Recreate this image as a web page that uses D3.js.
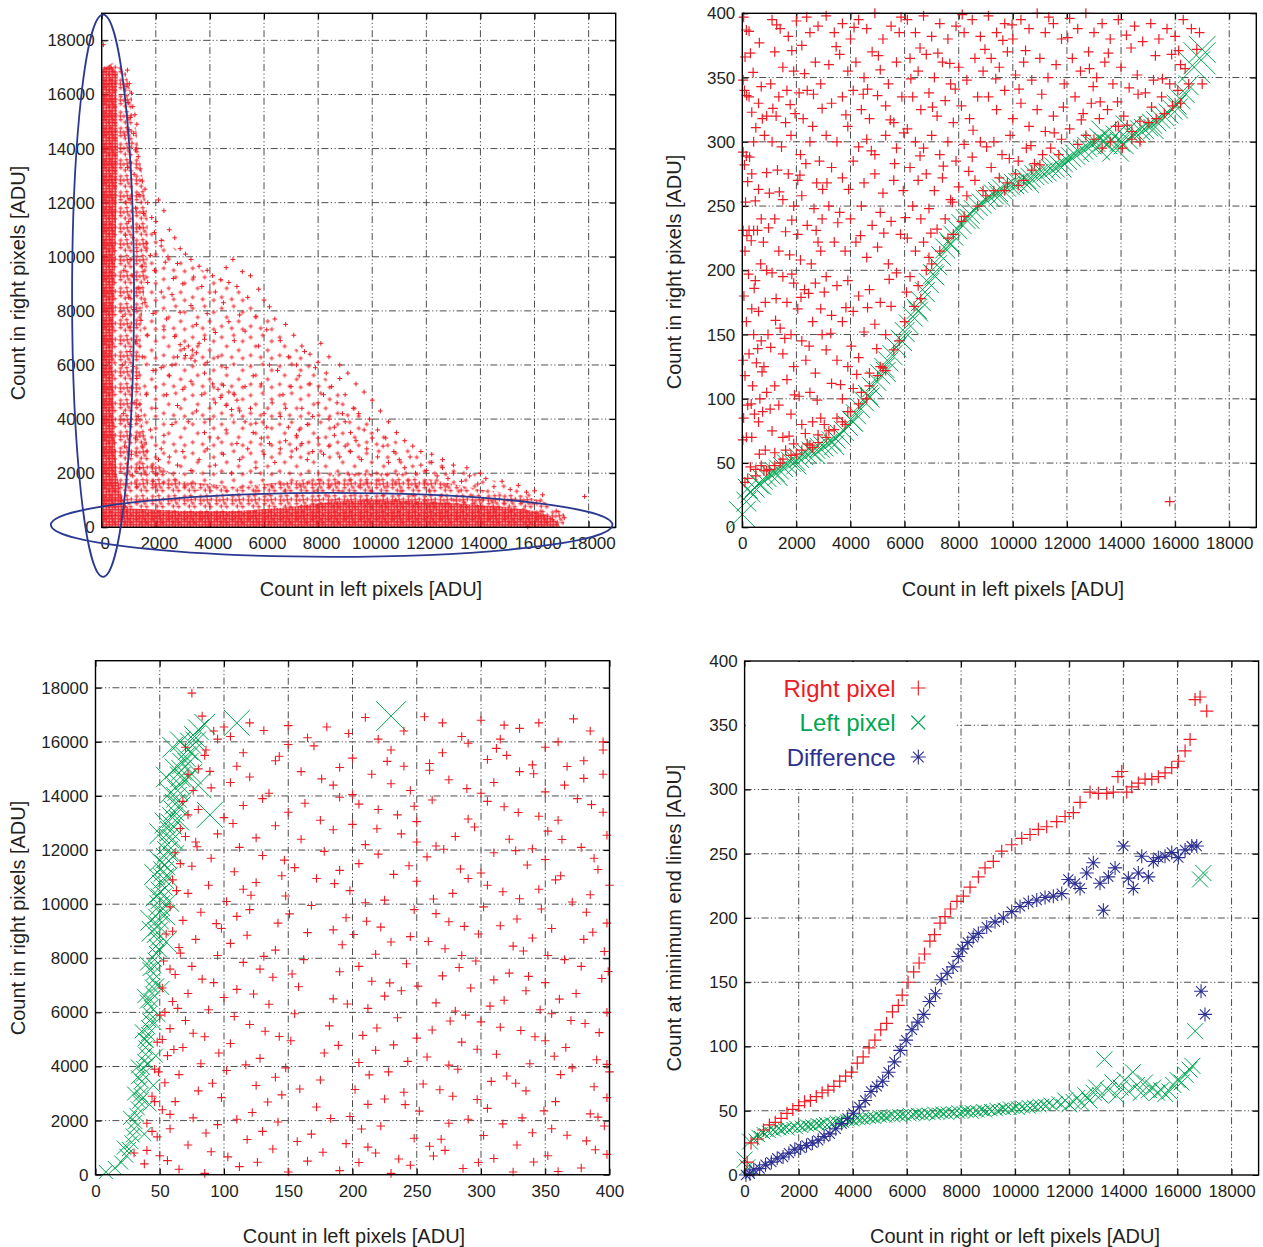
<!DOCTYPE html>
<html><head><meta charset="utf-8">
<script src="https://cdn.jsdelivr.net/npm/d3@7"></script>
<style>body{margin:0;background:#fff}text{font-family:"Liberation Sans",Arial,Helvetica,sans-serif}</style>
</head><body><script>
// ---------------- DATA ----------------
const ticksADU=[0,2000,4000,6000,8000,10000,12000,14000,16000,18000];
const ticks400=[0,50,100,150,200,250,300,350,400];
const titleLeft="Count in left pixels [ADU]";
const titleRight="Count in right pixels [ADU]";
const titleMin="Count at minimum end lines [ADU]";
const titleRL="Count in right or left pixels [ADU]";
const legendLabels=["Right pixel","Left pixel","Difference"];

// Panel 1: over-plotted regions [left ADU, right ADU]
const p1Dense=[[0,0],[0,16900],[300,17100],[600,16800],[550,16000],[600,14000],[550,12000],[500,10000],[450,8000],[400,6000],[450,4000],[550,2000],[800,900],[1000,700],[3000,600],[5000,600],[7000,750],[8500,950],[10000,1000],[12000,950],[13500,850],[15000,750],[16000,600],[16600,400],[16900,150],[16900,0]];
const p1Mid=[[0,0],[0,17000],[500,17200],[900,16800],[1100,16000],[1300,14500],[1500,13000],[1700,11500],[1700,10000],[1500,8000],[1400,6000],[1500,4000],[1800,2500],[3000,1700],[5000,1500],[7000,1700],[9000,2000],[11000,2000],[12500,1700],[14000,1400],[15500,1200],[16500,900],[17100,500],[17100,0]];
const p1Sparse=[[1200,1500],[1300,9000],[1700,11000],[2500,10500],[3500,9600],[4800,9000],[6000,8000],[7000,6800],[8000,5800],[9000,4800],[10000,3900],[11000,3100],[12300,2500],[14000,1900],[15500,1400],[16500,1000],[16500,500]];
// Panel 1: individually visible events [left, right]
const p1Points=[[60,17840],[950,16900],[1020,16400],[1100,16050],[980,15700],[1150,15550],[1230,15250],[1060,15150],[1300,14900],[1010,14700],[1180,14550],[1120,14200],[1250,13950],[1350,13700],[1050,13500],[1420,13250],[1200,13050],[1500,12800],[1600,12500],[1380,12300],[1050,12150],[1700,12000],[1250,11800],[1550,11600],[1850,11450],[1000,11300],[1400,11100],[1950,10900],[1150,10700],[1650,10500],[2200,10400],[1300,10200],[1800,10050],[1050,9900],[2350,9800],[1500,9650],[1950,9500],[1150,9300],[2650,9200],[1700,9050],[1350,8850],[2200,8700],[1000,8500],[1600,8300],[1200,8050],[1900,7900],[1450,7650],[1050,7400],[2300,7300],[1700,7100],[1250,6850],[1050,6500],[1500,6300],[1150,5950],[1900,5800],[1300,5500],[1100,5150],[1650,4900],[1200,4600],[2000,4400],[1350,4100],[1050,3800],[1800,3600],[1250,3300],[1500,3000],[1100,2700],[2100,2500],[1400,2200],[1150,1900],[1900,1700],[1300,1500],
[2100,12100],[2300,11700],[2000,11300],[2500,11000],[2700,10700],[2200,10600],[2900,10300],[3100,10100],[2450,10000],[3300,9900],[2800,9750],[3600,9650],[3900,9500],[4100,9300],[3400,9250],[4400,9150],[4700,9050],[4850,9900],[4600,9600],[5200,9450],[5500,9300],[5000,8900],[5800,8800],[3000,9000],[3700,8900],[4200,8700],[2600,8600],[5400,8500],[6000,8400],[6200,8150],[4500,8300],[3300,8200],[2900,7950],[3900,7900],[5100,7850],[5700,7800],[6400,7700],[2400,7700],[4700,7600],[6800,7500],[3500,7500],[6100,7300],[5300,7250],[4200,7200],[7100,7100],[2700,7050],[3800,6950],[6600,6900],[4900,6900],[5800,6700],
[2900,6750],[3050,6600],[3200,6700],[3350,6550],[3500,6450],[3100,6350],[3300,6250],[2800,6300],[3600,6800],[3450,6150],[2600,6000],[3900,6100],[4300,6300],[4600,5900],[2200,5900],[3800,5700],[2500,5600],[3300,5400],[4100,5300],[4300,5100],[4500,5250],[4700,5000],[4900,4900],[4400,4800],[4200,4600],[4600,4500],[5000,4700],[4800,4350],[5100,4300],[3700,4900],[3000,5100],[2400,4900],[2800,4500],[3500,4300],[3200,3900],[2600,3800],[4000,4000],[5300,5200],[5600,5600],[5900,5300],[6200,6000],[6500,5800],[6900,6300],[7200,6000],[7500,6500],[7300,5600],[7900,5900],[7700,5300],[8300,5700],[8500,5200],[8800,5500],[8200,4900],[8700,4600],[9000,4900],[9300,4400],[7000,5200],[6700,4900],[6300,4600],[6000,4200],[5700,3850],[5600,3500],[5900,3300],[6100,3700],[5500,4400],[7400,4400],[7800,4100],[8000,4600],[8400,4000],[9000,3900],[9500,4200],[9700,3600],[6600,4100],[6900,3700],[7200,3400],[5300,3900],[4600,3600],[4300,3300],[3800,3500],[5000,3100],[2300,3400],
[2200,2900],[2500,2600],[2800,2300],[3000,2800],[3300,2100],[3600,2500],[3900,2900],[4200,2300],[4500,2700],[4800,2000],[5100,2500],[5400,2900],[5700,2200],[6000,2700],[6200,3100],[6400,2400],[6600,2900],[6800,3200],[7000,2600],[7200,2900],[7400,3100],[7600,2500],[7800,2800],[8000,3300],[8200,2700],[8400,3000],[8600,3400],[8800,2600],[9000,3000],[9200,2800],[9400,3200],[9600,2500],[9800,2900],[10000,3300],[10200,2600],[10400,3000],[10600,2400],[10800,2800],[11000,2500],[11200,2200],[11400,2600],[11600,2000],[11800,2300],[12000,2100],[12200,2400],[12400,1900],[12600,2200],[12800,1800],[13000,2000],[13300,1700],[13600,1900],[13900,1600],[14200,1800],[14500,1500],[14800,1700],[15100,1400],[15400,1550],[15700,1300],[16000,1350],[16300,1200],
[7400,6700],[7700,6400],[8000,6100],[8100,6800],[8400,6300],[8800,6000],[9100,5700],[9400,5300],[9700,5000],[10000,4700],[10300,4300],[10600,3900],[10900,3500],[11200,3200],[11500,3000],[11800,2800],[12200,2700],[12600,2500],[13000,2300],[13500,2200],[14000,2000],[9900,4000],[10200,3600],[10500,3300],[8600,3700],[9200,3500],[8900,4200],[7600,3800],[7300,3600],[6800,4400],
[900,16300],[850,14500],[950,13300],[900,12000],[880,10800],[820,9500],[780,7800],[760,6000],[800,4200],[850,3000],[17850,1140],[15750,20],[16800,600],[17100,350]];
// Panel 1 annotation ellipses [centre left, centre right, radius left, radius right] in ADU
const p1Ellipses=[[50,8560,1145,10390],[8500,90,10380,1180]];

// Panel 2: red = right pixel events [left ADU, right ADU]
const p2Right=[[50,397],[150,387],[250,386],[100,366],[300,369],[30,348],[80,340],[160,336],[250,335],[400,354],[600,330],[350,323],[500,311],[420,300],[700,343],[900,320],[820,305],[30,292],[150,289],[80,282],[200,269],[350,275],[600,263],[900,276],[480,254],[120,253],[700,240],[30,231],[250,231],[420,231],[560,231],[100,215],[330,223],[780,222],[680,205],[230,197],[480,192],[900,200],[60,180],[350,170],[600,168],[850,175],[150,160],[420,150],[700,145],[950,150],[30,130],[250,135],[520,128],[800,125],[100,118],[380,110],[650,100],[900,105],[200,95],[50,85],[450,88],[750,90],[150,70],[20,68],[350,70],[600,82],[850,60],[300,47],[500,45],[700,48],[900,44],[100,35],[200,38],
[1100,395],[1400,388],[1700,382],[2000,394],[2200,375],[2500,385],[2800,390],[1200,370],[1500,358],[1900,355],[2300,353],[2700,362],[1050,345],[1350,335],[1650,340],[2100,338],[2400,340],[2900,345],[1250,320],[1600,315],[1950,322],[2250,318],[2600,312],[2950,326],[1100,300],[1450,296],[1800,305],[2150,290],[2500,300],[2850,285],[1300,278],[1700,275],[2050,270],[2350,283],[2750,268],[1000,260],[1500,255],[1900,250],[2200,258],[2650,248],[2950,240],[1200,240],[1600,230],[2050,228],[2400,235],[2800,222],[1350,215],[1750,212],[2150,208],[2550,205],[2900,215],[1100,198],[1500,195],[1900,190],[2300,185],[2700,190],[1250,178],[1650,175],[2050,170],[2450,182],[2900,170],[1400,155],[1800,150],[2200,145],[2600,160],[2950,150],[1050,140],[1500,135],[1900,125],[2350,130],[2700,120],[1200,110],[1650,115],[2100,102],[2500,105],[1350,95],[1800,88],[2200,80],[2600,82],[2900,85],[1100,75],[1500,70],[1900,65],[2400,65],[2800,72],[1200,58],[1600,60],[2000,57],[1400,50],[1000,45],[2600,62],
[500,40],[800,44],[1200,48],[1500,53],[1800,56],[2200,60],[2500,64],[2800,66],[3100,70],[3400,76],[3700,82],[4000,90],[4300,96],[4700,110],[5200,124],
[3100,398],[3400,385],[3700,392],[4000,380],[4300,395],[4600,388],[4900,400],[5200,380],[5500,390],[5800,385],[3200,360],[3600,368],[3900,355],[4200,362],[4500,350],[4800,370],[5100,356],[5400,345],[5700,362],[3300,330],[3700,335],[4100,340],[4400,325],[4700,318],[5000,336],[5300,328],[5600,315],[5900,335],[3100,305],[3500,300],[3900,312],[4300,296],[4600,302],[4900,290],[5300,305],[5700,295],[3300,280],[3700,272],[4100,285],[4500,268],[4900,275],[5200,260],[5600,270],[5950,262],[3200,250],[3600,245],[4000,240],[4400,250],[4800,235],[5100,245],[5500,238],[5850,228],[3400,222],[3800,215],[4200,222],[4600,210],[5000,218],[5400,205],[5700,198],[3100,195],[3500,188],[3900,192],[4300,180],[4700,185],[5100,175],[5500,172],[3300,165],[3700,160],[4100,168],[4500,152],[4900,158],[5300,150],[3100,138],[3500,130],[3900,125],[4300,132],[4700,120],[5100,125],[3300,112],[3700,100],[4100,108],[4400,105],[3500,85],[3900,90],[3200,75],[3800,80],[4600,100],[5000,118],[5300,122],[5600,138],[5800,145],[6000,160],
[6100,395],[6400,385],[6700,398],[7000,382],[7300,392],[7600,380],[7900,390],[8200,385],[8500,395],[8800,382],[6200,365],[6500,355],[6800,368],[7100,350],[7400,362],[7700,345],[8000,358],[8300,348],[8600,365],[8900,355],[6300,335],[6600,325],[6900,338],[7200,320],[7500,332],[7800,315],[8100,328],[8400,318],[8700,335],[6100,310],[6400,300],[6700,295],[7000,305],[7300,290],[7600,300],[7900,285],[8200,298],[8500,288],[8800,300],[6200,280],[6500,270],[6800,275],[7100,262],[7400,272],[7700,255],[8000,265],[8300,258],[8600,270],[8900,262],[6300,250],[6600,240],[6900,248],[7200,232],[7500,240],[7800,228],[8200,242],[6100,225],[6400,215],[6700,222],[7000,205],[7300,215],[6200,195],[6500,188],[6800,200],[6350,172],[6600,178],[6900,210],[7600,225],[8100,238],[8700,250],[9000,258],
[9100,398],[9400,385],[9700,392],[10000,380],[10300,395],[10600,388],[10900,400],[11200,385],[11500,392],[11800,380],[9200,365],[9500,358],[9800,370],[10100,352],[10400,362],[10700,348],[11000,365],[11300,350],[11600,360],[11900,345],[9100,335],[9400,325],[9700,340],[10000,318],[10300,330],[10600,312],[10900,325],[11200,308],[11500,320],[11800,302],[9300,300],[9600,290],[9900,305],[10200,285],[10500,295],[10800,283],[11100,290],[11400,295],[9200,280],[9500,272],[9800,268],[10100,275],[10400,270],[10700,278],[11000,282],[11700,290],[9300,262],[9700,262],[10200,266],
[12100,396],[12400,388],[12700,400],[13000,385],[13300,392],[13600,380],[13900,395],[14200,383],[14500,390],[14800,378],[15100,392],[15400,380],[15700,388],[16000,382],[16300,395],[16600,388],[16900,385],[12200,365],[12500,355],[12800,370],[13100,350],[13400,362],[13700,345],[14000,358],[14300,342],[14600,352],[14900,338],[15200,348],[15500,335],[15800,345],[16100,340],[16500,345],[12300,335],[12600,322],[12900,330],[13200,318],[13500,325],[13800,312],[14100,320],[14400,308],[14700,316],[15000,315],[15300,318],[15600,322],[15900,328],[16200,330],[12100,310],[12400,298],[12700,305],[13000,302],[13300,295],[13600,300],[14050,295],[14400,302],[14700,300],[13900,312],[15800,20],[16800,372],[16200,360],[17000,345],
[630,377],[1270,391],[1830,371],[2380,397],[3470,374],[4130,389],[5030,367],[5870,397],[6570,373],[7230,369],[8130,399],[8970,372],[9630,379],[10470,371],[11330,397],[12030,381],[13530,369],[14370,373],[15270,367],[16130,371],[740,318],[1130,326],[1770,329],[2630,337],[3830,321],[4630,341],[5470,317],[6230,349],[7030,327],[7870,341],[8530,309],[9370,349],[10230,341],[11070,337],[11870,327],[12970,343],[13870,331],[14630,337],[15530,349],[16370,357],[270,288],[1370,261],[2130,274],[3130,268],[3930,263],[4770,293],[5630,283],[6570,289],[7430,281],[8370,277],[9030,296],[9870,287],[10670,297],[11530,307],[12530,317],[13230,331],[14230,313],[15130,327],[170,227],[970,233],[1830,239],[2730,231],[3530,237],[4370,227],[5230,229],[6030,241],[6970,229],[7770,253],[440,186],[1230,161],[2170,179],[3030,183],[3830,171],[4630,171],[5430,193],[6070,183],[730,121],[1570,147],[2470,141],[3270,151],[4030,141],[4970,139],[330,96],[1030,92],[1930,103],[2770,99],[3630,111],[4230,119],[630,57],[1730,71],[2330,73],[3030,80],[570,139],[1830,197],[2970,263],[4470,337],[5970,307],[7670,361],[9970,391],[12830,357],[15870,368]];
// Panel 2: green = left pixel events [left ADU, right ADU, multiplicity]
const p2Left=[[0,10,2],[150,20,1],[300,27,1],[450,31,1],[600,34,1],[750,37,1],[900,39,1],[1050,41,1],[1200,43,1],[1350,45,1],[1500,47,1],[1650,49,1],[1800,51,1],[1950,52,1],[2100,54,1],[2250,56,1],[2400,57,1],[2550,59,1],[2700,61,1],[2850,62,1],[3000,63,1],[3150,65,1],[3300,67,1],[3450,69,1],[3600,72,1],[3750,75,1],[3900,79,1],[4050,83,1],[4200,88,1],[4350,93,1],[4500,98,1],[4650,103,1],[4800,109,1],[4950,114,1],[5100,119,1],[5250,124,1],[5400,129,1],[5550,134,1],[5700,140,1],[5850,146,1],[6000,152,1],[6150,158,1],[6300,164,1],[6450,170,1],[6600,176,1],[6750,183,1],[6900,190,1],[7050,197,1],[7200,204,1],[7350,211,1],[7500,217,1],[7650,222,1],[7800,227,1],[7950,232,1],[8100,236,1],[8250,240,1],[8400,244,1],[8550,247,1],[8700,250,1],[8850,252,1],[9000,255,1],[9150,257,1],[9300,259,1],[9450,261,1],[9600,263,1],[9750,265,1],[9900,266,1],[10050,267,1],[10200,268,1],[10350,270,1],[10500,271,1],[10650,272,1],[10800,274,1],[10950,275,1],[11100,276,1],[11250,277,1],[11400,279,1],[11550,280,1],[11700,282,1],[11850,284,1],[12000,286,1],[12150,288,1],[12300,290,1],[12450,292,1],[12600,294,1],[12750,296,1],[12900,298,1],[13050,300,1],[13200,303,1],[13350,300,1],[13500,298,1],[13650,302,1],[13800,305,1],[13950,300,1],[14100,298,1],[14250,302,1],[14400,305,1],[14550,307,1],[14700,309,1],[14850,310,1],[15000,312,1],[15150,314,1],[15300,316,1],[15450,318,1],[15600,320,1],[15750,322,1],[15900,325,1],[16050,329,1],[16200,333,1],[16350,338,1],[16500,344,1],[16700,358,3],[16900,365,3],[17000,372,2],
[200,30,1],[700,33,1],[1300,40,1],[2000,49,1],[2700,57,1],[3400,64,1],[4100,82,1],[4700,101,1],[5300,121,1],[5900,145,1],[6500,168,1],[7100,196,1],[7700,220,1],[8400,240,1],[9500,258,1],[10600,268,1],[11800,280,1],[13100,296,2],[13400,306,2],[13800,295,2],[14300,310,2],[15200,310,1],[16100,326,1]];

// Panel 3: red = right pixel events [left ADU, right ADU]
const p3Right=[[75,17800],[120,16700],[150,16600],[180,16550],[240,16400],[270,16700],[300,16800],[330,16500],[360,16000],[395,16000],[95,16100],[105,16200],[210,16900],[345,16700],[100,16550],[285,16200],[220,16100],[315,16100],[385,16400],[165,16150],
[70,15800],[85,15500],[115,15600],[140,15300],[170,15850],[200,15400],[230,15700],[260,15200],[290,15950],[320,15500],[350,15800],[380,15300],[110,15100],[190,15050],[270,15600],[340,15150],[395,15700],[150,15900],[240,15100],[305,15350],
[72,14800],[90,14300],[120,14700],[135,14100],[160,14900],[185,14400],[215,14800],[245,14200],[275,14600],[300,14100],[330,14900],[365,14400],[395,14800],[105,14500],[200,14050],[260,14950],[310,14500],[350,14150],[230,14450],[380,14650],
[68,13800],[80,13500],[100,13200],[130,13900],[150,13400],[175,13100],[205,13700],[235,13300],[262,13850],[290,13150],[318,13600],[345,13250],[375,13900],[395,13400],[115,13650],[190,13950],[250,13050],[305,13800],[360,13100],[220,13500],
[66,12800],[78,12300],[95,12600],[112,12100],[140,12900],[160,12400],[185,12750],[210,12200],[238,12600],[265,12150],[295,12850],[322,12400],[352,12700],[378,12100],[398,12550],[125,12450],[200,12950],[280,12500],[340,12050],[250,12300],
[62,11900],[75,11400],[90,11700],[108,11200],[130,11800],[155,11350],[178,11950],[205,11500],[232,11100],[258,11750],[284,11300],[310,11900],[336,11450],[362,11050],[388,11700],[145,11050],[220,11850],[300,11150],[350,11650],[190,11250],
[60,10900],[72,10400],[88,10700],[102,10100],[125,10800],[148,10300],[172,10950],[198,10500],[225,10150],[250,10850],[278,10400],[305,10700],[330,10200],[358,10900],[385,10350],[400,10700],[115,10550],[210,10050],[290,10950],[345,10550],
[58,9900],[68,9400],[82,9700],[98,9100],[120,9800],[142,9300],[168,9950],[195,9500],[222,9150],[248,9800],[275,9350],[302,9900],[328,9450],[355,9100],[382,9700],[398,9300],[110,9550],[185,9050],[265,9650],[315,9200],
[55,8900],[65,8400],[78,8700],[95,8100],[118,8850],[140,8300],[165,8950],[192,8500],[218,8150],[245,8800],[272,8350],[298,8900],[325,8450],[352,8100],[380,8700],[396,8250],[105,8550],[230,8600],[285,8100],[340,8750],
[53,7900],[62,7400],[75,7700],[92,7100],[115,7850],[138,7300],[162,7950],[190,7500],[215,7150],[242,7800],[270,7350],[296,7900],[322,7450],[350,7100],[378,7700],[394,7250],[128,7600],[205,7700],[310,7200],[365,7950],
[52,6900],[60,6400],[72,6700],[88,6100],[110,6850],[135,6300],[158,6950],[185,6500],[212,6150],[238,6800],[265,6350],[292,6900],[318,6450],[346,6100],[374,6700],[398,6000],[100,6550],[225,6600],[280,6050],[335,6800],
[50,5900],[58,5400],[70,5700],[85,5100],[108,5850],[132,5300],[155,5950],[182,5500],[208,5150],[235,5800],[262,5350],[288,5900],[315,5450],[342,5100],[370,5700],[392,5250],[120,5550],[250,5050],[300,5650],[355,5950],
[48,4900],[56,4400],[68,4700],[82,4100],[105,4850],[128,4300],[152,4950],[178,4500],[205,4150],[232,4800],[258,4350],[285,4900],[312,4450],[338,4100],[366,4700],[390,4250],[96,4500],[218,4600],[275,4050],[350,4950],
[46,3900],[54,3400],[65,3700],[80,3100],[102,3850],[125,3300],[148,3950],[175,3500],[202,3150],[228,3800],[255,3350],[282,3900],[308,3450],[335,3100],[362,3700],[388,3250],[400,3800],[140,3600],[240,3050],[320,3650],
[44,2900],[52,2400],[62,2700],[76,2100],[98,2850],[122,2300],[145,2950],[172,2500],[198,2150],[225,2800],[252,2350],[278,2900],[305,2450],[332,2100],[358,2700],[385,2250],[398,2850],[110,2050],[212,2600],[290,2050],
[40,1900],[48,1400],[58,1700],[72,1100],[95,1850],[118,1300],[142,1950],[168,1500],[195,1150],[222,1800],[248,1350],[275,1900],[302,1450],[328,1100],[355,1700],[382,1250],[396,1800],[130,1600],[260,1050],[340,1550],
[30,800],[38,400],[50,700],[65,200],[90,850],[112,300],[138,950],[165,500],[190,150],[218,800],[245,350],[272,900],[298,450],[325,100],[352,700],[378,250],[398,750],[150,100],[230,50],[310,600],[360,120],[205,450],[85,50],
[83,16950],[131,16420],[197,16310],[256,16930],[318,16620],[372,16850],[143,15470],[227,15280],[312,15760],[367,15090],[89,14910],[176,14630],[289,14270],[341,14820],[248,13620],[163,13730],[329,13390],[386,13680],[107,12980],[219,12790],[271,12030],[363,12390],[79,12120],[147,11630],[244,11420],[327,11980],[391,11280],[121,10330],[186,10760],[263,10190],[317,10460],[371,10080],[94,9280],[151,9640],[211,9370],[287,9180],[347,9820],[66,8190],[131,8070],[201,8880],[259,8620],[333,8270],[387,8960],[83,7230],[153,7420],[229,7090],[283,7660],[337,7330],[399,7510],[64,6150],[123,6680],[196,6310],[251,6970],[307,6230],[361,6490],[76,5230],[143,5110],[219,5420],[276,5680],[331,5330],[381,5590],[61,4630],[117,4060],[189,4780],[243,4190],[297,4640],[357,4380],[398,4080],[91,3380],[159,3170],[213,3690],[268,3140],[327,3380],[371,3950],[58,2230],[134,2690],[183,2080],[241,2590],[297,2780],[349,2360],[391,2130],[86,1540],[157,1230],[207,1690],[269,1310],[317,1880],[367,1460],[56,520],[103,660],[177,830],[236,580],[286,230],[341,470],[389,920],[126,460],[263,690],[212,1020],
[58,7600],[60,9000],[63,10500],[66,11500],[70,12500],[72,13300],[76,14200],[80,15000],[86,15700],[92,16400],[54,6000],[52,5000],[49,3800],[46,2700],[44,1600],[40,900]];
// Panel 3: green = left pixel events [left ADU, right ADU, multiplicity]
const p3Left=[[8,100,1],[15,250,1],[20,450,1],[24,700,1],[26,950,1],[28,1200,1],[29,1450,1],[30,1700,1],[31,1950,1],[32,2200,1],[33,2450,1],[34,2700,1],[35,2950,1],[35,3200,1],[36,3450,1],[37,3700,1],[37,3950,1],[38,4200,1],[39,4450,1],[39,4700,1],[40,4950,1],[41,5200,1],[41,5450,1],[42,5700,1],[42,5950,1],[43,6200,1],[43,6450,1],[44,6700,1],[44,6950,1],[45,7200,1],[45,7450,1],[46,7700,1],[46,7950,1],[47,8200,1],[47,8450,1],[48,8700,1],[48,8950,2],[49,9200,2],[49,9450,2],[50,9700,2],[50,9950,2],[51,10200,2],[51,10450,2],[52,10700,2],[53,10950,2],[53,11200,2],[54,11450,2],[55,11700,2],[56,11950,2],[56,12200,2],[57,12450,2],[58,12700,2],[59,12950,2],[60,13200,2],[61,13450,2],[62,13700,2],[63,13950,2],[64,14200,2],[65,14450,2],[66,14700,2],[67,14950,2],[68,15200,2],[70,15450,2],[72,15700,2],[74,15950,2],[77,16200,2],[80,16450,2],[85,16650,2],[110,16700,3],[230,16950,4],[89,13300,3],[80,14400,3],[75,14800,2],
[36,2800,1],[33,3600,1],[41,4100,1],[38,5000,1],[46,5600,1],[40,6400,1],[48,7000,1],[42,7600,1],[50,8300,1],[44,9000,2],[54,9600,2],[47,10300,2],[56,11000,2],[50,11600,2],[60,12400,2],[54,13000,2],[66,13600,2],[58,14100,2],[70,14600,2],[62,15000,2],[75,15600,2],[66,16000,2],
[22,1000,1],[38,1500,1],[27,2100,1],[42,2600,1],[30,3000,1],[45,3300,1],[33,4000,1],[47,4400,1],[36,5300,1],[49,5900,1],[38,6600,1],[52,6900,1],[40,7800,1],[55,8600,2],[43,9400,2],[57,10100,2],[46,11100,2],[61,11800,2],[50,12600,2],[65,13100,2],[55,14700,2],[72,15200,2],[60,15800,2],[78,16000,2]];

// Panel 4 (minimum end lines vs pixel count)
const p4Right=[[94,10],[238,25],[484,28],[700,35],[917,39],[1134,41],[1350,44],[1567,48],[1783,51],[2000,54],[2217,57],[2433,58],[2650,61],[2866,64],[3083,66],[3300,69],[3516,73],[3733,77],[3949,80],[4166,87],[4382,92],[4599,99],[4816,105],[5032,113],[5249,118],[5466,127],[5682,132],[5826,140],[6043,150],[6250,158],[6450,165],[6650,172],[6850,182],[7020,187],[7224,196],[7409,201],[7610,207],[7850,213],[8086,217],[8333,224],[8640,232],[8888,239],[9194,244],[9504,252],[9874,257],[10244,262],[10551,265],[10858,269],[11168,271],[11538,275],[11845,279],[12152,282],[12400,290],[12769,298],[13077,297],[13386,297],[13631,298],[13800,310],[13942,314],[14126,298],[14311,302],[14555,305],[14803,308],[15051,308],[15295,310],[15542,313],[15789,317],[16034,322],[16282,330],[16467,339],[16651,370],[16836,372],[17083,361]];
const p4Left=[[0,12,2],[100,6,2],[200,26,2],[350,28,1],[450,31,1],[550,30,1],[650,33,1],[750,32,1],[850,34,1],[950,33,1],[1050,35,1],[1150,34,1],[1250,36,1],[1350,35,1],[1450,36,1],[1550,37,1],[1650,35,1],[1750,37,1],[1850,38,1],[1950,36,1],[2050,38,1],[2150,37,1],[2250,39,1],[2350,38,1],[2450,39,1],[2550,38,1],[2650,40,1],[2750,39,1],[2850,40,1],[2950,41,1],[3050,39,1],[3150,41,1],[3250,40,1],[3350,42,1],[3450,41,1],[3550,42,1],[3650,41,1],[3750,43,1],[3850,42,1],[3950,43,1],[4050,42,1],[4150,44,1],[4250,43,1],[4350,44,1],[4450,43,1],[4550,45,1],[4650,44,1],[4750,45,1],[4850,44,1],[4950,46,1],[5050,45,1],[5150,46,1],[5250,45,1],[5350,46,1],[5450,47,1],[5550,45,1],[5650,47,1],[5750,46,1],[5850,47,1],[5950,46,1],[6050,48,1],[6150,46,1],[6250,47,1],[6350,48,1],[6450,47,1],[6550,48,1],[6650,46,1],[6750,48,1],[6850,47,1],[6950,49,1],[7050,47,1],[7150,48,1],[7250,49,1],[7350,48,1],[7450,49,1],[7550,47,1],[7650,49,1],[7750,48,1],[7850,50,1],[7950,48,1],[8050,49,1],[8150,50,1],[8250,49,1],[8350,50,1],[8450,48,1],[8550,50,1],[8650,49,1],[8750,51,1],[8850,50,1],[8950,49,1],[9050,51,1],[9150,50,1],[9250,52,1],[9350,50,1],[9450,51,1],[9550,52,1],[9650,51,1],[9750,53,1],[9850,51,1],[9950,52,1],[10050,53,1],[10150,51,1],[10250,53,1],[10350,52,1],[10450,54,1],[10550,52,1],[10650,54,1],[10750,53,1],[10850,55,1],[10950,53,1],[11050,55,1],[11150,54,1],[11250,56,1],[11400,54,1],[11550,57,1],[11700,55,1],[11850,58,2],[12000,55,2],[12150,57,2],[12300,60,2],[12450,56,2],[12600,62,2],[12750,58,2],[12900,64,2],[13000,68,2],[13150,62,2],[13300,90,2],[13450,66,2],[13600,72,2],[13750,62,2],[13900,68,2],[14050,74,2],[14200,65,2],[14350,80,2],[14500,70,2],[14650,64,2],[14800,72,2],[14950,66,2],[15100,68,2],[15250,64,2],[15400,66,2],[15550,63,2],[15700,65,2],[15850,70,2],[16000,74,2],[16150,72,2],[16300,78,2],[16450,82,2],[16550,85,2],[16658,112,2],[16836,230,2],[16958,235,2]];
const p4Diff=[[51,0],[195,1],[339,4],[556,5],[773,8],[989,10],[1206,13],[1422,14],[1639,17],[1856,20],[2072,21],[2289,23],[2505,25],[2722,27],[2938,30],[3155,32],[3372,36],[3588,40],[3805,44],[4021,48],[4238,53],[4455,58],[4671,65],[4888,69],[5104,73],[5321,80],[5538,88],[5754,97],[5971,105],[6187,113],[6404,119],[6621,125],[6837,135],[7054,141],[7270,152],[7487,157],[7704,162],[7900,170],[8050,176],[8250,181],[8450,185],[8640,188],[8950,193],[9257,197],[9565,200],[9874,205],[10182,209],[10489,212],[10799,214],[11106,216],[11413,217],[11723,219],[11967,230],[12215,227],[12400,223],[12647,235],[12892,243],[13139,227],[13262,206],[13447,232],[13694,239],[14001,256],[14186,231],[14370,223],[14555,235],[14680,248],[14925,232],[15110,244],[15295,247],[15542,248],[15789,251],[16034,247],[16282,253],[16529,256],[16714,256],[16873,143],[17018,125]];

// ---------------- DRAWING ----------------
const RED="#ed1c24",GREEN="#00a651",BLUE="#2e3192",INK="#231f20";
const S=514;
const svg=d3.select("body").append("svg").attr("width",1263).attr("height",1247);
const defs=svg.append("defs");
function makePattern(id,size,bgOpacity,marks,arm){
  const p=defs.append("pattern").attr("id",id).attr("patternUnits","userSpaceOnUse").attr("width",size).attr("height",size);
  if(bgOpacity>0)p.append("rect").attr("width",size).attr("height",size).attr("fill",RED).attr("fill-opacity",bgOpacity);
  p.append("path").attr("d",marks.map(([a,b])=>`M${a-arm},${b}H${a+arm}M${a},${b-arm}V${b+arm}`).join("")).attr("stroke",RED).attr("stroke-width",1).attr("fill","none");
}
// texture tiles used to render over-plotted areas (hand-placed marks)
makePattern("dense",3,0.4,[[1.5,1.5]],1.5);
makePattern("mid",16,0,[[3,3],[9,2.5],[13.5,6],[6,7],[11,10],[3,10.5],[7.5,13],[13,13.5],[9.5,6.5],[2.5,6.8]],2.3);
makePattern("sparse",29,0,[[4,5],[16,3],[25,9],[9,14],[21,18],[4,23],[14,25],[25,26]],2.3);

const shapes={
  plus:s=>`M${-s},0H${s}M0,${-s}V${s}`,
  cross:s=>`M${-s},${-s}L${s},${s}M${-s},${s}L${s},${-s}`,
  star:s=>{const c=s*0.72;return `M${-s},0H${s}M0,${-s}V${s}M${-c},${-c}L${c},${c}M${-c},${c}L${c},${-c}`;}
};

function panel(o){
  const g=svg.append("g").attr("transform",`translate(${o.left},${o.top})`);
  const x=d3.scaleLinear().domain(o.xd).range([0,S]);
  const y=d3.scaleLinear().domain(o.yd).range([S,0]);
  const grid=g.append("g").attr("stroke","#3a3a3a").attr("stroke-width",0.9).attr("stroke-dasharray","7,2.5,1.2,2.5,1.2,2.5");
  grid.selectAll("line.v").data(o.xt.filter(v=>v>o.xd[0]&&v<o.xd[1])).join("line").attr("class","v")
    .attr("x1",d=>x(d)).attr("x2",d=>x(d)).attr("y1",S).attr("y2",0);
  grid.selectAll("line.h").data(o.yt.filter(v=>v>o.yd[0]&&v<o.yd[1])).join("line").attr("class","h")
    .attr("y1",d=>y(d)).attr("y2",d=>y(d)).attr("x1",0).attr("x2",S);
  const fmt=d3.format("d");
  const ax=g.append("g").attr("transform",`translate(0,${S})`).call(d3.axisBottom(x).tickValues(o.xt).tickFormat(fmt).tickSizeInner(-6).tickSizeOuter(0).tickPadding(10));
  const ay=g.append("g").call(d3.axisLeft(y).tickValues(o.yt).tickFormat(fmt).tickSizeInner(-6).tickSizeOuter(0).tickPadding(7));
  const at=g.append("g").call(d3.axisTop(x).tickValues(o.xt).tickFormat("").tickSizeInner(-6).tickSizeOuter(0));
  const ar=g.append("g").attr("transform",`translate(${S},0)`).call(d3.axisRight(y).tickValues(o.yt).tickFormat("").tickSizeInner(-6).tickSizeOuter(0));
  [ax,ay,at,ar].forEach(a=>{a.select(".domain").remove();a.selectAll("line").attr("stroke","#000");
    a.selectAll("text").attr("font-size",17).attr("fill",INK).attr("font-family","Liberation Sans, Arial, sans-serif");});
  if(o.xLabelDx)ax.selectAll("text").attr("dx",o.xLabelDx);
  const layer=g.append("g");
  g.append("rect").attr("width",S).attr("height",S).attr("fill","none").attr("stroke","#000").attr("stroke-width",1.4);
  svg.append("text").attr("x",o.xtPos[0]).attr("y",o.xtPos[1]).attr("text-anchor","middle").attr("font-size",20).attr("fill",INK).text(o.xTitle);
  svg.append("text").attr("transform",`translate(${o.ytPos[0]},${o.ytPos[1]}) rotate(-90)`).attr("text-anchor","middle").attr("font-size",20).attr("fill",INK).text(o.yTitle);
  return {g,layer,x,y};
}
function pts(P,data,shape,color,sizeFn,sw){
  P.layer.append("g").attr("fill","none").attr("stroke",color).attr("stroke-width",sw)
   .selectAll("path").data(data).join("path")
   .attr("transform",d=>`translate(${P.x(d[0]).toFixed(2)},${P.y(d[1]).toFixed(2)})`)
   .attr("d",d=>shapes[shape](sizeFn(d)));
}

// Panel 1
const P1=panel({left:101.7,top:13.3,xd:[0,19000],yd:[0,19000],xt:ticksADU,yt:ticksADU,xTitle:titleLeft,yTitle:titleRight,xtPos:[371,596],ytPos:[25,283],xLabelDx:3});
const area1=d3.line().x(d=>P1.x(d[0])).y(d=>P1.y(d[1]));
[["sparse",p1Sparse],["mid",p1Mid],["dense",p1Dense]].forEach(([id,poly])=>
  P1.layer.append("path").datum(poly).attr("d",area1).attr("fill",`url(#${id})`));
pts(P1,p1Points,"plus",RED,()=>2.4,1);
svg.append("g").attr("transform","translate(101.7,13.3)").selectAll("ellipse").data(p1Ellipses).join("ellipse")
  .attr("cx",d=>P1.x(d[0])).attr("cy",d=>P1.y(d[1]))
  .attr("rx",d=>P1.x(d[2])-P1.x(0)).attr("ry",d=>P1.y(0)-P1.y(d[3]))
  .attr("fill","none").attr("stroke","#2b3990").attr("stroke-width",1.8);

// Panel 2
const P2=panel({left:742.3,top:13.3,xd:[0,19000],yd:[0,400],xt:ticksADU,yt:ticks400,xTitle:titleLeft,yTitle:titleRight,xtPos:[1013,596],ytPos:[681,272]});
const sz2=d3.scaleSqrt().domain([1,3]).range([10,16]);
pts(P2,p2Left,"cross",GREEN,d=>sz2(d[2]),1);
pts(P2,p2Right,"plus",RED,()=>5,1.2);

// Panel 3
const P3=panel({left:95.5,top:660.7,xd:[0,400],yd:[0,19000],xt:ticks400,yt:ticksADU,xTitle:titleLeft,yTitle:titleRight,xtPos:[354,1243],ytPos:[25,918]});
const sz3=d3.scaleSqrt().domain([1,4]).range([7,15]);
pts(P3,p3Left,"cross",GREEN,d=>sz3(d[2]),1);
pts(P3,p3Right,"plus",RED,()=>4.3,1.1);

// Panel 4
const P4=panel({left:744.6,top:661,xd:[0,19000],yd:[0,400],xt:ticksADU,yt:ticks400,xTitle:titleRL,yTitle:titleMin,xtPos:[1015,1243],ytPos:[681,918]});
P4.layer.append("rect").attr("x",1).attr("y",1).attr("width",210).attr("height",124).attr("fill","#fff");
const sz4=d3.scaleSqrt().domain([1,2]).range([5.5,8]);
pts(P4,p4Left,"cross",GREEN,d=>sz4(d[2]),1);
pts(P4,p4Diff,"star",BLUE,()=>7,1.1);
pts(P4,p4Right,"plus",RED,()=>6.5,1.2);
// legend
const legColors=[RED,GREEN,BLUE],legShapes=["plus","cross","star"],legSize=[7.5,7,7.5];
const leg=P4.layer.append("g");
legendLabels.forEach((t,i)=>{
  const cy=27+i*34.5;
  leg.append("text").attr("x",151).attr("y",cy+8.5).attr("text-anchor","end").attr("font-size",24).attr("fill",legColors[i]).text(t);
  leg.append("path").attr("transform",`translate(173.7,${cy})`).attr("d",shapes[legShapes[i]](legSize[i])).attr("fill","none").attr("stroke",legColors[i]).attr("stroke-width",1.1);
});
</script></body></html>
